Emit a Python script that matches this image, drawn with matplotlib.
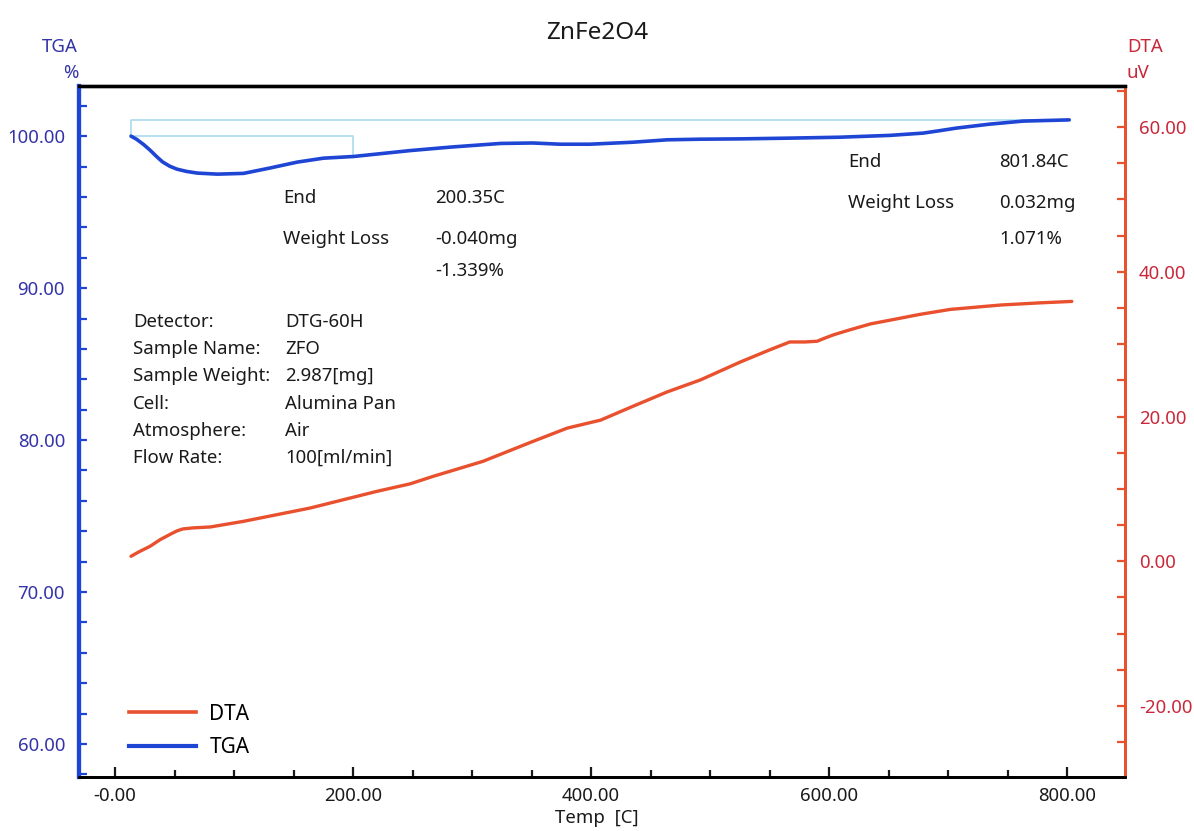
import matplotlib
matplotlib.use("Agg")
import matplotlib.pyplot as plt
from matplotlib.ticker import MultipleLocator, FixedLocator
from matplotlib.lines import Line2D

plt.rcParams["font.family"] = ["Noto Sans", "DejaVu Sans"]

# TGA trace (%), temperature in C
tga_temp = [13.4, 18, 24, 29.4, 35, 40, 46, 52, 60, 69, 86, 108, 130, 153, 175, 200.35,
            248, 282, 324, 351, 374, 399, 435, 464, 492, 525, 567, 609, 651, 679, 693,
            707, 735, 763, 792, 801.84]
tga_pct = [100.0, 99.8, 99.45, 99.08, 98.65, 98.3, 98.02, 97.83, 97.68, 97.57, 97.5,
           97.55, 97.9, 98.29, 98.55, 98.661, 99.05, 99.28, 99.52, 99.55, 99.47, 99.47,
           99.6, 99.76, 99.8, 99.82, 99.87, 99.93, 100.05, 100.2, 100.36, 100.53, 100.79,
           100.99, 101.05, 101.071]

# DTA trace (uV)
dta_temp = [13.4, 20, 29.4, 38, 46, 52, 57, 66, 80, 108, 136, 164, 192, 220, 248, 267,
            309, 351, 380, 408, 435, 464, 492, 525, 550, 567, 580, 590, 596, 604, 618,
            635, 651, 676, 702, 744, 777, 804]
dta_uv = [0.69, 1.3, 2.07, 3.0, 3.7, 4.2, 4.47, 4.62, 4.74, 5.52, 6.44, 7.36, 8.51,
          9.66, 10.7, 11.72, 13.8, 16.55, 18.4, 19.5, 21.4, 23.4, 25.06, 27.5, 29.2,
          30.3, 30.3, 30.4, 30.8, 31.3, 32.0, 32.8, 33.3, 34.1, 34.8, 35.4, 35.7, 35.9]

# Weight-change step analysis results
step_start = 13.4
step1_end, step1_loss_mg, step1_loss_pct = 200.35, -0.040, -1.339
step2_end, step2_loss_mg, step2_loss_pct = 801.84, 0.032, 1.071

x_ticks = [0, 200, 400, 600, 800]
x_tick_labels = ["-0.00", "200.00", "400.00", "600.00", "800.00"]
tga_ticks = [60, 70, 80, 90, 100]
dta_ticks = [-20, 0, 20, 40, 60]

info_keys = ["Detector:", "Sample Name:", "Sample Weight:", "Cell:", "Atmosphere:", "Flow Rate:"]
info_vals = ["DTG-60H", "ZFO", "2.987[mg]", "Alumina Pan", "Air", "100[ml/min]"]

BLUE = "#1f45d4"
BLUE_TXT = "#3434a8"
RED = "#e8502e"
RED_TXT = "#c8283a"
STEP = "#a9dcee"
TXT = "#1a1a1a"
FS = 13.4

W, H = 1194, 831
fig = plt.figure(figsize=(W / 100, H / 100), dpi=100)
ax = fig.add_axes([79 / W, 1 - 777 / H, (1125 - 79) / W, (777 - 86) / H])
ax2 = ax.twinx()

ax.set_xlim(-30.3, 848.7)
ax.set_ylim(57.83, 103.3)
ax2.set_ylim(-29.8, 65.66)

# step markers
ax.plot([step_start, step1_end, step1_end], [100, 100, 100 + step1_loss_pct],
        color=STEP, lw=1.2, zorder=2)
ax.plot([step_start, step_start, step2_end], [100, 100 + step2_loss_pct, 100 + step2_loss_pct],
        color=STEP, lw=1.2, zorder=2)

ax.plot(tga_temp, tga_pct, color=BLUE, lw=2.6, zorder=3,
        solid_capstyle="round", solid_joinstyle="round")
ax2.plot(dta_temp, dta_uv, color=RED, lw=2.4, zorder=3,
         solid_capstyle="round", solid_joinstyle="round")

# axes styling
ax.xaxis.set_major_locator(FixedLocator(x_ticks))
ax.set_xticklabels(x_tick_labels)
ax.xaxis.set_minor_locator(MultipleLocator(50))
ax.yaxis.set_major_locator(FixedLocator(tga_ticks))
ax.set_yticklabels([f"{v:.2f}" for v in tga_ticks])
ax.yaxis.set_minor_locator(MultipleLocator(2))
ax2.yaxis.set_major_locator(FixedLocator(dta_ticks))
ax2.set_yticklabels([f"{v:.2f}" for v in dta_ticks])
ax2.yaxis.set_minor_locator(MultipleLocator(5))

ax.tick_params(axis="x", which="both", direction="in", color=TXT, labelcolor=TXT,
               labelsize=FS, pad=7, width=1.6)
ax.tick_params(axis="x", which="major", length=7)
ax.tick_params(axis="x", which="minor", length=5)
ax.tick_params(axis="y", which="both", direction="in", color=BLUE, labelcolor=BLUE_TXT,
               labelsize=FS, pad=10, width=1.6, length=6)
ax2.tick_params(axis="y", which="both", direction="in", color=RED, labelcolor=RED_TXT,
                labelsize=FS, pad=10, width=1.6, length=6)

for a in (ax, ax2):
    a.spines["top"].set_color("black")
    a.spines["top"].set_linewidth(2.4)
    a.spines["bottom"].set_color("black")
    a.spines["bottom"].set_linewidth(2.0)
    a.spines["left"].set_color(BLUE)
    a.spines["left"].set_linewidth(3.0)
    a.spines["right"].set_color(RED)
    a.spines["right"].set_linewidth(2.0)

fig.text(597 / W, 1 - 33 / H, "ZnFe2O4", ha="center", va="center", fontsize=17.5, color=TXT)
fig.text(597 / W, 1 - 818 / H, "Temp  [C]", ha="center", va="center", fontsize=FS, color=TXT)
fig.text(78 / W, 1 - 47 / H, "TGA", ha="right", va="center", fontsize=FS, color=BLUE_TXT)
fig.text(78 / W, 1 - 73 / H, "%", ha="right", va="center", fontsize=FS, color=BLUE_TXT)
fig.text(1127 / W, 1 - 47 / H, "DTA", ha="left", va="center", fontsize=FS, color=RED_TXT)
fig.text(1127 / W, 1 - 73 / H, "uV", ha="left", va="center", fontsize=FS, color=RED_TXT)

def ftext(x, y, s):
    fig.text(x / W, 1 - y / H, s, ha="left", va="center", fontsize=FS, color=TXT)

# step 1 results
ftext(283, 198, "End")
ftext(435, 198, f"{step1_end:.2f}C")
ftext(283, 239, "Weight Loss")
ftext(435, 239, f"{step1_loss_mg:.3f}mg")
ftext(435, 271, f"{step1_loss_pct:.3f}%")
# step 2 results
ftext(848, 162, "End")
ftext(999, 162, f"{step2_end:.2f}C")
ftext(848, 203, "Weight Loss")
ftext(999, 203, f"{step2_loss_mg:.3f}mg")
ftext(999, 239, f"{step2_loss_pct:.3f}%")

# measurement conditions
for i, (k, v) in enumerate(zip(info_keys, info_vals)):
    y = 322 + i * 27.2
    ftext(133, y, k)
    ftext(285, y, v)

handles = [Line2D([], [], color=RED, lw=2.6), Line2D([], [], color=BLUE, lw=3.0)]
ax2.legend(handles, ["DTA", "TGA"], loc="lower left", bbox_to_anchor=(0.03, 0.0),
           frameon=False, fontsize=15, handlelength=3.2, handletextpad=0.65,
           labelspacing=0.6)

fig.savefig("out.png", dpi=100)
